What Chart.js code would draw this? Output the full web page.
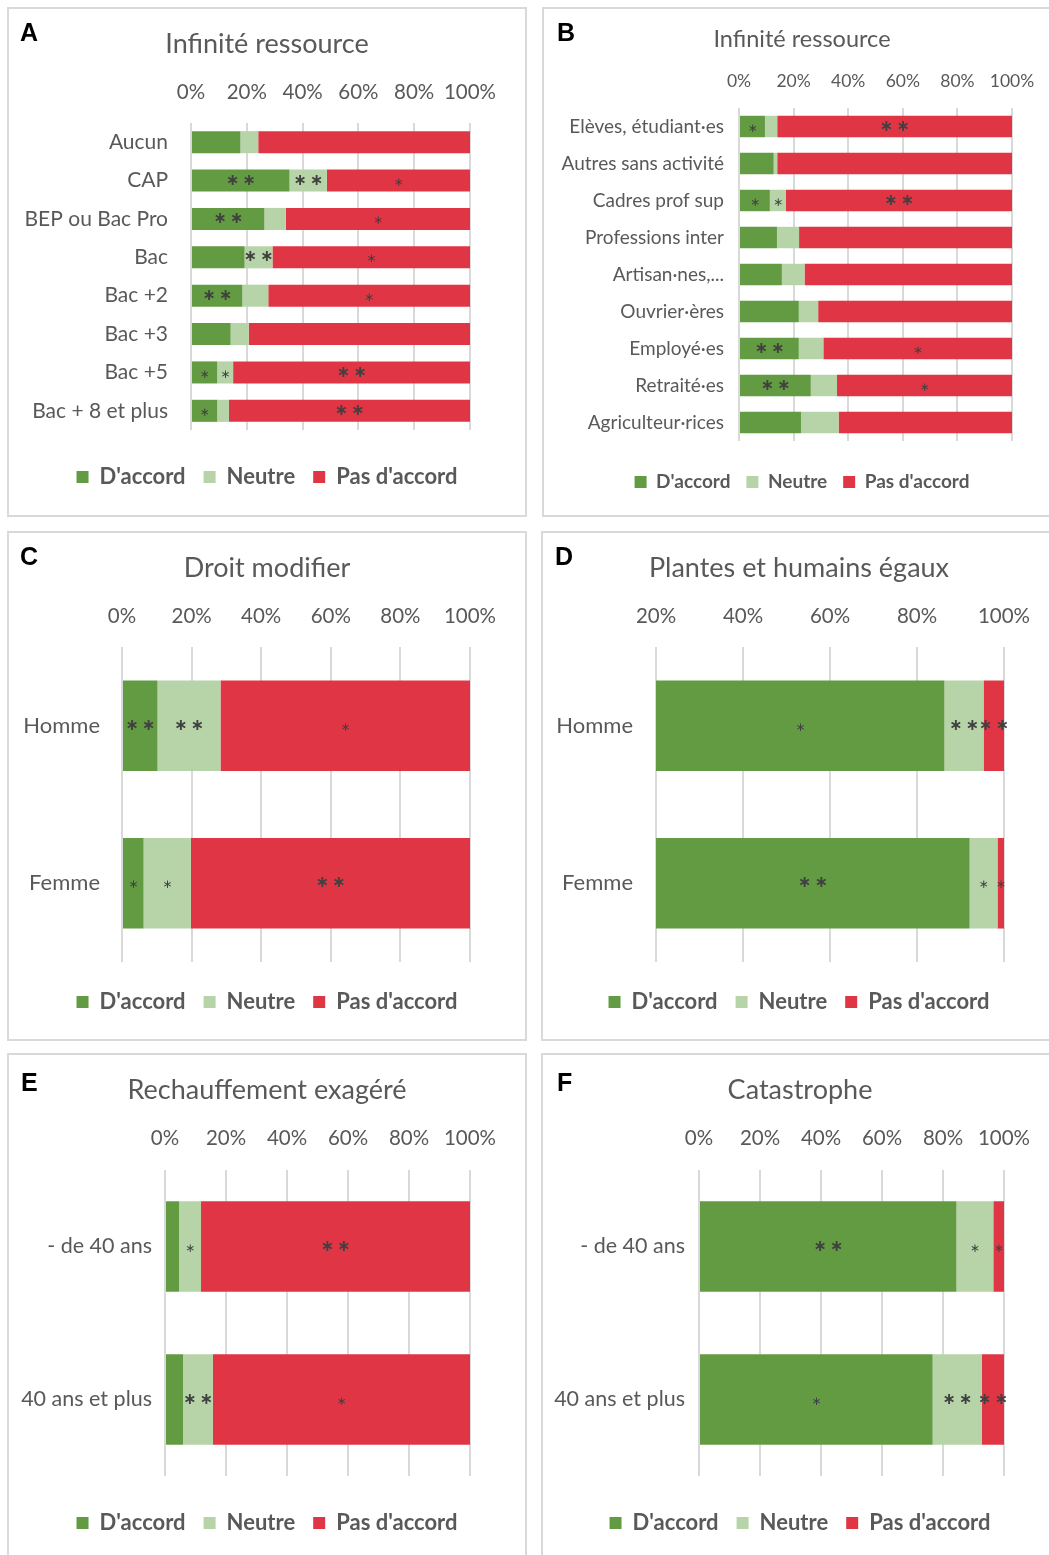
<!DOCTYPE html>
<html>
<head>
<meta charset="utf-8">
<script src="https://cdn.jsdelivr.net/npm/chart.js@4.4.1/dist/chart.umd.min.js"></script>
<style>
  html, body { margin: 0; padding: 0; background: #fff; overflow: hidden; }
  body { width: 1049px; height: 1555px; position: relative; font-family: Lato, sans-serif; }
  .panel { position: absolute; }
  .panel canvas { position: absolute; left: 0; top: 0; }
  .frame { position: absolute; left: 0; top: 0; right: 0; bottom: 0; border: 2px solid #d9d9d9; pointer-events: none; }
  .letter { position: absolute; font: bold 25px "Liberation Sans", Arial, sans-serif; color: #000; line-height: 1; }
</style>
</head>
<body>
<script>
  // A - niveau de diplome
  const catsA = ['Aucun', 'CAP', 'BEP ou Bac Pro', 'Bac', 'Bac +2', 'Bac +3', 'Bac +5', 'Bac + 8 et plus'];
  const accordA = [17.7, 35.3, 26.3, 19.2, 18.4, 14.2, 9.4, 9.4];
  const neutreA = [6.4, 13.4, 7.7, 10.0, 9.3, 6.5, 5.7, 4.2];
  const pasA = [75.9, 51.3, 66.0, 70.8, 72.3, 79.3, 84.9, 86.4];
  const starsA = [
    ['', '**', '**', '', '**', '', '*', '*'],
    ['', '**', '', '**', '', '', '*', ''],
    ['', '*', '*', '*', '*', '', '**', '**']
  ];

  // B - categorie socio-professionnelle
  const catsB = ['Elèves, étudiant·es', 'Autres sans activité', 'Cadres prof sup', 'Professions inter',
    'Artisan·nes,...', 'Ouvrier·ères', 'Employé·es', 'Retraité·es', 'Agriculteur·rices'];
  const accordB = [9.5, 12.7, 11.3, 13.9, 15.7, 21.9, 21.9, 26.3, 22.7];
  const neutreB = [4.5, 1.3, 5.9, 8.1, 8.3, 7.1, 9.0, 9.6, 13.8];
  const pasB = [86.0, 86.0, 82.8, 78.0, 76.0, 71.0, 69.1, 64.1, 63.5];
  const starsB = [
    ['*', '', '*', '', '', '', '**', '**', ''],
    ['', '', '*', '', '', '', '', '', ''],
    ['**', '', '**', '', '', '', '*', '*', '']
  ];

  // C, D - sexe
  const catsSexe = ['Homme', 'Femme'];
  const accordC = [10.2, 6.2];
  const neutreC = [18.1, 13.6];
  const pasC = [71.7, 80.2];
  const starsC = [['**', '*'], ['**', '*'], ['*', '**']];

  const accordD = [86.3, 92.1];
  const neutreD = [9.0, 6.4];
  const pasD = [4.7, 1.5];
  const starsD = [['*', '**'], ['**', '*'], ['**', '*']];

  // E, F - age
  const catsAge = ['- de 40 ans', '40 ans et plus'];
  const accordE = [4.6, 5.9];
  const neutreE = [7.2, 9.8];
  const pasE = [88.2, 84.3];
  const starsE = [['', ''], ['*', '**'], ['**', '*']];

  const accordF = [84.4, 76.6];
  const neutreF = [12.1, 16.1];
  const pasF = [3.5, 7.3];
  const starsF = [['**', '*'], ['*', '**'], ['*', '**']];

  const seriesNames = ["D'accord", 'Neutre', "Pas d'accord"];
  const colors = ['#629b42', '#b6d4a7', '#e03545'];
  const TXT = '#595959';
  const GRID = '#d9d9d9';

  // stars drawn in the middle of each visible segment
  const starLabels = {
    id: 'starLabels',
    afterDatasetsDraw(chart) {
      const { ctx, chartArea } = chart;
      chart.data.datasets.forEach((ds, i) => {
        chart.getDatasetMeta(i).data.forEach((bar, j) => {
          const s = ds.stars[j];
          if (!s) return;
          const x0 = Math.max(Math.min(bar.base, bar.x), chartArea.left);
          const x1 = Math.max(bar.base, bar.x);
          const cx = (x0 + x1) / 2;
          ctx.save();
          ctx.fillStyle = '#404040';
          ctx.textAlign = 'center';
          ctx.textBaseline = 'middle';
          if (s === '**') {
            ctx.font = 'bold 16px "DejaVu Sans"';
            ctx.fillText('\u2217\u2009\u2217', cx, bar.y);
          } else {
            ctx.font = '12px "DejaVu Sans"';
            ctx.fillText('\u2217', cx, bar.y + 2);
          }
          ctx.restore();
        });
      });
    }
  };

  function panel(p, letter, title, cats, accord, neutre, pas, stars) {
    const wrap = document.createElement('div');
    wrap.className = 'panel';
    Object.assign(wrap.style, { left: p.x + 'px', top: p.y + 'px', width: p.w + 'px', height: p.h + 'px' });
    const canvas = document.createElement('canvas');
    canvas.width = p.w;
    canvas.height = p.h;
    wrap.appendChild(canvas);
    const frame = document.createElement('div');
    frame.className = 'frame';
    wrap.appendChild(frame);
    const lab = document.createElement('div');
    lab.className = 'letter';
    lab.textContent = letter;
    lab.style.left = (p.lx - p.x) + 'px';
    lab.style.top = (p.ly - p.y - 13) + 'px';
    wrap.appendChild(lab);
    document.body.appendChild(wrap);

    // page coords -> canvas coords
    const titleLH = p.ts * 1.2;
    const titlePadTop = p.ty - p.y - titleLH / 2;
    const titleBottom = p.ty - p.y + titleLH / 2;
    const top = p.top - p.y, bottom = p.bottom - p.y;
    const side = p.w - (p.right - p.x);
    const xHeight = top - titleBottom;
    const tickPad = top - (p.ky - p.y) - 0.6 * p.ks;
    const yWidth = p.left - p.x;
    const labPad = p.left - p.lr;
    const legGap = (p.gy - p.y) - bottom - p.gp - p.gs / 2;
    const legH = legGap + p.gs + p.gp + 10;
    const padBottom = p.h - bottom - legH;

    const values = [accord, neutre, pas];
    new Chart(canvas, {
      type: 'bar',
      data: {
        labels: cats,
        datasets: seriesNames.map((name, i) => ({
          label: name,
          data: values[i],
          backgroundColor: colors[i],
          borderColor: colors[i],
          borderWidth: 0,
          stars: stars[i],
          yAxisID: 'y',
          barPercentage: p.bar,
          categoryPercentage: 1
        }))
      },
      options: {
        indexAxis: 'y',
        responsive: false,
        animation: false,
        layout: { padding: { left: 0, right: 0, top: 0, bottom: padBottom } },
        scales: {
          x: {
            stacked: true,
            position: 'top',
            min: p.min,
            max: 100,
            afterFit: s => { s.height = xHeight; },
            grid: { color: GRID, lineWidth: 2, drawTicks: false },
            border: { display: false },
            ticks: {
              stepSize: 20, autoSkip: false, maxRotation: 0, padding: tickPad, color: TXT,
              font: { family: 'Lato', size: p.ks },
              callback: v => v + '%'
            }
          },
          y: {
            stacked: true,
            position: 'left',
            afterFit: s => { s.width = yWidth; },
            grid: { display: false, drawTicks: false },
            border: { display: false },
            ticks: { padding: labPad, color: TXT, autoSkip: false, font: { family: 'Lato', size: p.ls } }
          },
          // empty right margin so title and legend stay centred on the panel
          yRight: {
            type: 'category',
            position: 'right',
            afterFit: s => { s.width = side; },
            grid: { display: false, drawTicks: false },
            border: { display: false },
            ticks: { display: false }
          }
        },
        plugins: {
          title: {
            display: true, text: title, color: TXT,
            font: { family: 'Lato', size: p.ts, weight: 'normal' },
            padding: { top: titlePadTop, bottom: 0 }
          },
          legend: {
            position: 'bottom',
            title: { display: true, text: '', font: { size: 1, lineHeight: 1 }, padding: { top: legGap - 1, bottom: 0 } },
            labels: {
              color: TXT, padding: p.gp, boxWidth: p.gb, boxHeight: p.gb,
              font: { family: 'Lato', size: p.gs, weight: 'bold' }
            }
          },
          tooltip: { enabled: false }
        }
      },
      plugins: [starLabels]
    });
  }

  // layout of each panel, in page pixels
  const layoutA = { x: 7, y: 7, w: 520, h: 510, lx: 20, ly: 33, ts: 27, ty: 44, ks: 20.5, ky: 92,
    left: 191, right: 470, top: 123, bottom: 430, ls: 21, lr: 168, gs: 22, gy: 477, gp: 18, gb: 12, bar: 0.575, min: 0 };
  const layoutB = { x: 542, y: 7, w: 520, h: 510, lx: 557, ly: 33, ts: 23.5, ty: 39, ks: 17.5, ky: 81,
    left: 739, right: 1012, top: 108, bottom: 441, ls: 19, lr: 724, gs: 19, gy: 482, gp: 16, gb: 12, bar: 0.58, min: 0 };
  const layoutC = { x: 7, y: 531, w: 520, h: 510, lx: 20, ly: 557, ts: 27, ty: 568, ks: 20.5, ky: 616,
    left: 122, right: 470, top: 647, bottom: 962, ls: 22, lr: 100, gs: 22, gy: 1002, gp: 18, gb: 12, bar: 0.575, min: 0 };
  const layoutD = { x: 541, y: 531, w: 516, h: 510, lx: 555, ly: 557, ts: 27, ty: 568, ks: 20.5, ky: 616,
    left: 656, right: 1004, top: 647, bottom: 962, ls: 22, lr: 633, gs: 22, gy: 1002, gp: 18, gb: 12, bar: 0.575, min: 20 };
  const layoutE = { x: 7, y: 1053, w: 520, h: 510, lx: 21, ly: 1083, ts: 27, ty: 1090, ks: 20.5, ky: 1138,
    left: 165, right: 470, top: 1170, bottom: 1476, ls: 21.5, lr: 152, gs: 22, gy: 1523, gp: 18, gb: 12, bar: 0.59, min: 0 };
  const layoutF = { x: 541, y: 1053, w: 518, h: 510, lx: 557, ly: 1083, ts: 27, ty: 1090, ks: 20.5, ky: 1138,
    left: 699, right: 1004, top: 1170, bottom: 1476, ls: 21.5, lr: 685, gs: 22, gy: 1523, gp: 18, gb: 12, bar: 0.59, min: 0 };

  panel(layoutA, 'A', 'Infinité ressource', catsA, accordA, neutreA, pasA, starsA);
  panel(layoutB, 'B', 'Infinité ressource', catsB, accordB, neutreB, pasB, starsB);
  panel(layoutC, 'C', 'Droit modifier', catsSexe, accordC, neutreC, pasC, starsC);
  panel(layoutD, 'D', 'Plantes et humains égaux', catsSexe, accordD, neutreD, pasD, starsD);
  panel(layoutE, 'E', 'Rechauffement exagéré', catsAge, accordE, neutreE, pasE, starsE);
  panel(layoutF, 'F', 'Catastrophe', catsAge, accordF, neutreF, pasF, starsF);
</script>
</body>
</html>
